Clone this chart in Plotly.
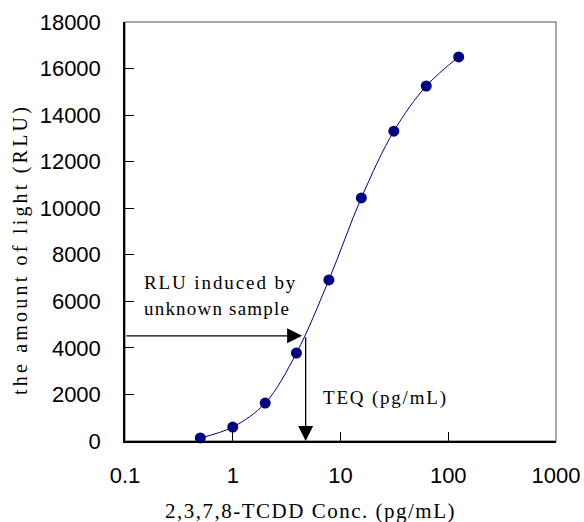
import plotly.graph_objects as go
import math

conc = [0.5, 1, 2, 3.9, 7.8, 15.6, 31.25, 62.5, 125]
rlu = [130, 600, 1630, 3780, 6920, 10440, 13310, 15250, 16500]
x_ticks = [0.1, 1, 10, 100, 1000]
x_tick_labels = ["0.1", "1", "10", "100", "1000"]
y_ticks = [0, 2000, 4000, 6000, 8000, 10000, 12000, 14000, 16000, 18000]
y_tick_labels = [str(v) for v in y_ticks]
unknown_rlu = 4520
teq_conc = 4.75
arrow_tip_conc = 4.4

navy = "#000080"
serif = "Liberation Serif, Times New Roman, serif"
sans = "Liberation Sans, Arial, sans-serif"


def spaced(t, ls):
    return '<span style="letter-spacing:%spx">%s</span>' % (ls, t)


fig = go.Figure()
fig.add_trace(go.Scatter(
    x=conc, y=rlu, mode="lines+markers",
    line=dict(color=navy, width=1, shape="spline", smoothing=1.0),
    marker=dict(color=navy, size=11),
    showlegend=False, cliponaxis=False,
))

# gray frame top/right
fig.add_shape(type="rect", xref="paper", yref="paper", x0=0, y0=0, x1=1, y1=1,
              line=dict(color="#8c8c8c", width=1.5), layer="below")

# horizontal arrow
fig.add_annotation(x=math.log10(arrow_tip_conc), y=unknown_rlu, ax=math.log10(0.1), ay=unknown_rlu,
                   xref="x", yref="y", axref="x", ayref="y", text="", showarrow=True,
                   arrowhead=2, arrowsize=2.3, arrowwidth=1.3, arrowcolor="black")
# vertical arrow
fig.add_annotation(x=math.log10(teq_conc), y=0, ax=math.log10(teq_conc), ay=unknown_rlu,
                   xref="x", yref="y", axref="x", ayref="y", text="", showarrow=True,
                   arrowhead=2, arrowsize=2.3, arrowwidth=1.3, arrowcolor="black")

fig.add_annotation(x=(142 - 125) / 431, y=(441 - 282) / 419, xref="paper", yref="paper",
                   xanchor="left", yanchor="middle", showarrow=False,
                   text=spaced("RLU induced by", 1.9), font=dict(family=serif, size=19, color="black"))
fig.add_annotation(x=(142 - 125) / 431, y=(441 - 308) / 419, xref="paper", yref="paper",
                   xanchor="left", yanchor="middle", showarrow=False,
                   text=spaced("unknown sample", 1.2), font=dict(family=serif, size=19, color="black"))
fig.add_annotation(x=(321 - 125) / 431, y=(441 - 398) / 419, xref="paper", yref="paper",
                   xanchor="left", yanchor="middle", showarrow=False,
                   text=spaced("TEQ (pg/mL)", 1.8), font=dict(family=serif, size=19, color="black"))

# axis titles
fig.add_annotation(x=(310 - 125) / 431, y=(441 - 511) / 419, xref="paper", yref="paper",
                   xanchor="center", yanchor="middle", showarrow=False,
                   text=spaced("2,3,7,8-TCDD Conc. (pg/mL)", 1.5), font=dict(family=serif, size=21, color="black"))
fig.add_annotation(x=(20 - 125) / 431, y=(441 - 250) / 419, xref="paper", yref="paper",
                   xanchor="center", yanchor="middle", showarrow=False, textangle=-90,
                   text=spaced("the amount of light (RLU)", 3.2), font=dict(family=serif, size=20, color="black"))

fig.update_xaxes(type="log", range=[-1, 3], tickvals=x_ticks, ticktext=x_tick_labels,
                 ticks="inside", ticklen=9, tickcolor="black", showline=True, linecolor="black",
                 linewidth=1.5, showgrid=False, zeroline=False, ticklabelstandoff=14, automargin=False,
                 tickfont=dict(family=sans, size=22, color="black"))
fig.update_yaxes(range=[0, 18000], tickvals=y_ticks, ticktext=y_tick_labels, ticks="inside", ticklen=9,
                 tickcolor="black", showline=True, linecolor="black", linewidth=1.5, showgrid=False,
                 zeroline=False, ticklabelstandoff=18, automargin=False,
                 tickfont=dict(family=sans, size=22, color="black"))

fig.update_layout(width=584, height=522, margin=dict(l=125, r=28, t=22, b=81),
                  plot_bgcolor="white", paper_bgcolor="white")
fig.write_html("out.html", config={"displayModeBar": False},
               post_script="document.body.style.margin='0px';document.body.style.overflow='hidden';")
